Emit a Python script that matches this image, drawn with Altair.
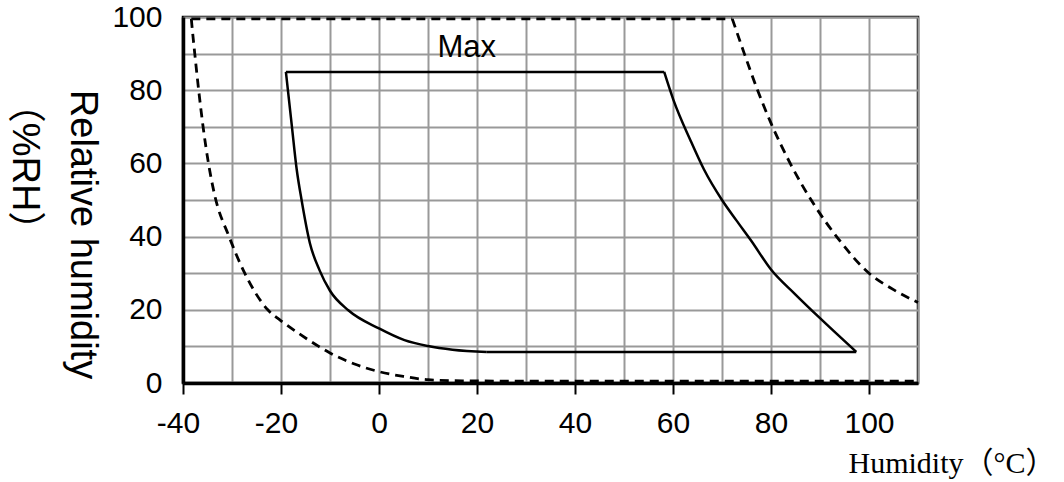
import altair as alt
import pandas as pd

# Operating envelope (solid line)
env_top_x = [-19.0, 58.2]
env_top_y = [85.0, 85.0]
env_right_x = [58.2, 60.1, 63.6, 66.3, 70.0, 72.9, 76.0, 80.0, 84.9, 90.0, 97.4]
env_right_y = [85.0, 77.3, 66.2, 58.4, 50.0, 44.5, 38.8, 31.0, 24.3, 17.7, 8.5]
env_bottom_x = [22.0, 97.4]
env_bottom_y = [8.5, 8.5]
env_left_x = [-19.0, -17.8, -16.8, -15.8, -14.1, -12.1, -10.0, -6.2, 0.0, 5.2, 10.0, 15.0, 22.0]
env_left_y = [85.0, 70.4, 58.4, 50.0, 38.2, 30.7, 25.2, 19.8, 14.9, 11.7, 10.1, 9.1, 8.5]

# Limit boundary (dashed line)
lim_left_x = [-38.3, -38.2, -37.6, -36.8, -35.9, -34.8, -33.6, -30.6, -27.4, -22.7, -20.0,
              -16.0, -12.3, -10.0, -5.0, 0.0, 5.0, 10.0, 17.0, 30.0, 110.0]
lim_left_y = [99.5, 98.0, 90.0, 80.0, 70.0, 60.0, 51.7, 40.0, 30.0, 20.0, 17.0,
              13.2, 10.0, 8.2, 5.2, 3.1, 1.8, 0.9, 0.6, 0.5, 0.5]
lim_top_x = [-38.3, 72.1]
lim_top_y = [99.5, 99.5]
lim_right_x = [72.1, 74.5, 77.2, 80.0, 84.0, 89.0, 93.5, 100.0, 105.0, 110.0]
lim_right_y = [99.5, 90.2, 80.2, 71.0, 59.8, 48.3, 39.8, 30.0, 25.5, 22.0]

# Annotation
note_x = [17.9]
note_y = [89.2]
note_text = ["Max"]

x_grid_values = list(range(-40, 111, 10))
y_grid_values = list(range(0, 101, 10))

x_enc = alt.X(
    "x:Q",
    scale=alt.Scale(domain=[-40, 110], nice=False, zero=False),
    axis=alt.Axis(
        values=x_grid_values,
        labelExpr="(datum.value % 20 == 0 && datum.value <= 100) ? ('' + datum.value) : ''",
        labelFlush=False,
        grid=True, gridColor="#999999", gridWidth=2,
        domainColor="black", domainWidth=3.5,
        ticks=True, tickSize=11, tickWidth=2,
        tickColor={"condition": {"test": "datum.value % 20 != 0 || datum.value > 100",
                                 "value": "transparent"}, "value": "black"},
        labelFont="Liberation Sans", labelFontSize=30, labelColor="black",
        labelPadding=14,
        labelOffset={"condition": {"test": "datum.value < 0", "value": -5}, "value": 0},
        title="Humidity（°C）",
        titleFont="Liberation Serif, Noto Sans CJK SC", titleFontSize=30,
        titleFontWeight="normal", titleColor="black",
        titleX=665, titleY=89, titleAlign="left", titleBaseline="alphabetic",
        titleAnchor="start",
    ),
)
y_enc = alt.Y(
    "y:Q",
    scale=alt.Scale(domain=[0, 100], nice=False, zero=False),
    axis=alt.Axis(
        values=y_grid_values,
        labelExpr="(datum.value % 20 == 0) ? ('' + datum.value) : ''",
        grid=True, gridColor="#999999", gridWidth=2,
        domainColor="black", domainWidth=3.5,
        ticks=False,
        labelFont="Liberation Sans", labelFontSize=30, labelColor="black",
        labelPadding=21, labelBaseline="middle",
        title="Relative humidity",
        titleFont="Liberation Sans", titleFontSize=38, titleFontWeight="normal",
        titleColor="black", titleAngle=90,
        titleX=-113, titleY=217, titleAlign="center", titleBaseline="alphabetic",
    ),
)


def seg(xs, ys, dashed=False, curve=False):
    df = pd.DataFrame({"x": xs, "y": ys})
    kw = dict(color="black", strokeWidth=2.5, interpolate="monotone" if curve else "linear")
    if dashed:
        kw["strokeDash"] = [9, 6]
        kw["strokeWidth"] = 2.8
    return alt.Chart(df).mark_line(**kw).encode(x=x_enc, y=y_enc)


layers = [
    seg(env_top_x, env_top_y),
    seg(env_right_x, env_right_y, curve=True),
    seg(env_bottom_x, env_bottom_y),
    seg(env_left_x, env_left_y, curve=True),
    seg(lim_left_x, lim_left_y, dashed=True, curve=True),
    seg(lim_top_x, lim_top_y, dashed=True),
    seg(lim_right_x, lim_right_y, dashed=True, curve=True),
]

note_df = pd.DataFrame({"x": note_x, "y": note_y, "t": note_text})
note = alt.Chart(note_df).mark_text(
    font="Liberation Sans", fontSize=31, color="black", align="center", baseline="alphabetic"
).encode(x=x_enc, y=y_enc, text="t:N")

unit = alt.Chart(pd.DataFrame({"t": ["（%RH）"]})).mark_text(
    font="Liberation Sans, Noto Sans CJK SC", fontSize=38, color="black",
    align="center", baseline="alphabetic", angle=90
).encode(x=alt.value(-170), y=alt.value(150), text="t:N")

chart = alt.layer(*layers, note, unit).properties(
    width=735, height=366,
    autosize=alt.AutoSizeParams(type="none"),
    padding={"left": 183, "top": 17, "right": 146, "bottom": 99},
    background="white",
).configure_view(stroke="black", strokeWidth=2.5)

chart.save("out.html", embed_options={"renderer": "svg", "actions": False})
